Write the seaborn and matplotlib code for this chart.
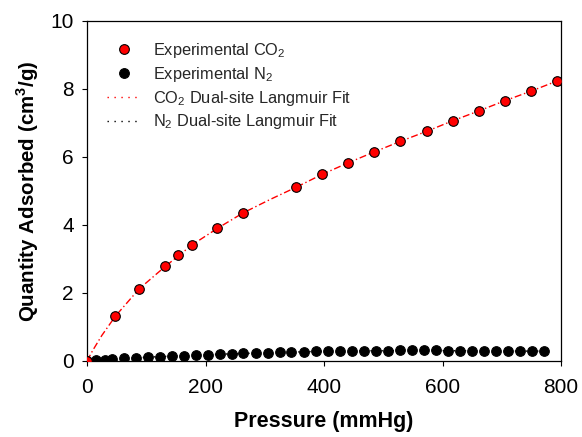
import matplotlib
matplotlib.use("Agg")
import matplotlib.pyplot as plt
import seaborn as sns
from matplotlib.lines import Line2D

# CO2 experimental
co2_p = [0.5, 48, 88, 132, 154, 177, 220, 264, 353, 397, 441, 485, 529, 574, 618, 662, 706, 750, 794]
co2_q = [0.01, 1.32, 2.12, 2.78, 3.12, 3.41, 3.90, 4.36, 5.11, 5.49, 5.83, 6.15, 6.46, 6.76, 7.07, 7.36, 7.66, 7.94, 8.24]

# N2 experimental
n2_p = [0.5, 15, 30, 42, 62, 82, 103, 124, 144, 164, 184, 204, 225, 245, 264, 285, 305, 325, 345, 366,
        386, 406, 427, 447, 467, 488, 508, 528, 548, 568, 589, 609, 629, 650, 670, 690, 710, 730, 751, 771]
n2_q = [0.00, 0.02, 0.04, 0.05, 0.08, 0.09, 0.11, 0.13, 0.14, 0.16, 0.17, 0.18, 0.20, 0.21, 0.22, 0.23, 0.24, 0.25, 0.26, 0.27,
        0.28, 0.28, 0.29, 0.29, 0.30, 0.30, 0.30, 0.31, 0.31, 0.31, 0.31, 0.30, 0.30, 0.30, 0.30, 0.30, 0.29, 0.29, 0.29, 0.29]

# Fits
co2_fit_p = [0, 10, 25, 48, 88, 132, 177, 220, 264, 309, 353, 397, 441, 485, 529, 574, 618, 662, 706, 750, 794, 800]
co2_fit_q = [0.0, 0.32, 0.75, 1.32, 2.12, 2.78, 3.41, 3.90, 4.36, 4.75, 5.11, 5.49, 5.83, 6.15, 6.46, 6.76, 7.07, 7.36, 7.66, 7.94, 8.24, 8.27]
n2_fit_p = n2_p
n2_fit_q = n2_q

labels = ["Experimental CO$_2$", "Experimental N$_2$",
          "CO$_2$ Dual-site Langmuir Fit", "N$_2$ Dual-site Langmuir Fit"]

sns.set_theme(style="ticks")
plt.rcParams["font.family"] = ["Liberation Sans", "DejaVu Sans"]
plt.rcParams["mathtext.fontset"] = "custom"
plt.rcParams["mathtext.rm"] = "Liberation Sans"
plt.rcParams["mathtext.bf"] = "Liberation Sans:bold"

fig = plt.figure(figsize=(5.82, 4.37), dpi=100)
ax = fig.add_axes([0.1495, 0.174, 0.8145, 0.778])

sns.lineplot(x=co2_fit_p, y=co2_fit_q, ax=ax, color="red", linewidth=1.0,
             linestyle=(0, (5, 2, 1, 2)), estimator=None, sort=False)
sns.lineplot(x=n2_fit_p, y=n2_fit_q, ax=ax, color="black", linewidth=1.0,
             linestyle=(0, (1, 3)), estimator=None, sort=False)
sns.scatterplot(x=co2_p, y=co2_q, ax=ax, color="red", edgecolor="black",
                linewidth=0.8, s=48, zorder=5)
sns.scatterplot(x=n2_p, y=n2_q, ax=ax, color="black", edgecolor="black",
                linewidth=0.8, s=48, zorder=4)

handles = [
    Line2D([], [], marker="o", linestyle="none", markerfacecolor="red", markeredgecolor="black", markersize=7, markeredgewidth=0.8),
    Line2D([], [], marker="o", linestyle="none", markerfacecolor="black", markeredgecolor="black", markersize=7, markeredgewidth=0.8),
    Line2D([], [], color="red", linewidth=1.0, linestyle=(0, (1, 4))),
    Line2D([], [], color="black", linewidth=1.0, linestyle=(0, (1, 4))),
]
ax.legend(handles, labels, loc="upper left", bbox_to_anchor=(0.005, 0.995), frameon=False,
          fontsize=11.8, handlelength=2.0, handletextpad=0.8, labelspacing=0.3, borderpad=0.6)

ax.set_xlim(0, 800)
ax.set_ylim(0, 10)
ax.set_xticks([0, 200, 400, 600, 800])
ax.set_yticks([0, 2, 4, 6, 8, 10])
ax.tick_params(axis="both", direction="out", length=3.6, width=0.8, labelsize=15, colors="black")
ax.tick_params(axis="x", pad=9)
ax.tick_params(axis="y", pad=6)
for s in ax.spines.values():
    s.set_visible(True)
    s.set_color("black")
    s.set_linewidth(0.9)
ax.set_xlabel("Pressure (mmHg)", fontsize=15.5, fontweight="bold", labelpad=10, color="black")
ax.set_ylabel("Quantity Adsorbed (cm$^\\mathbf{3}$/g)", fontsize=14.8, fontweight="bold", labelpad=7, color="black")
ax.grid(False)

fig.savefig("out.png", dpi=100)
